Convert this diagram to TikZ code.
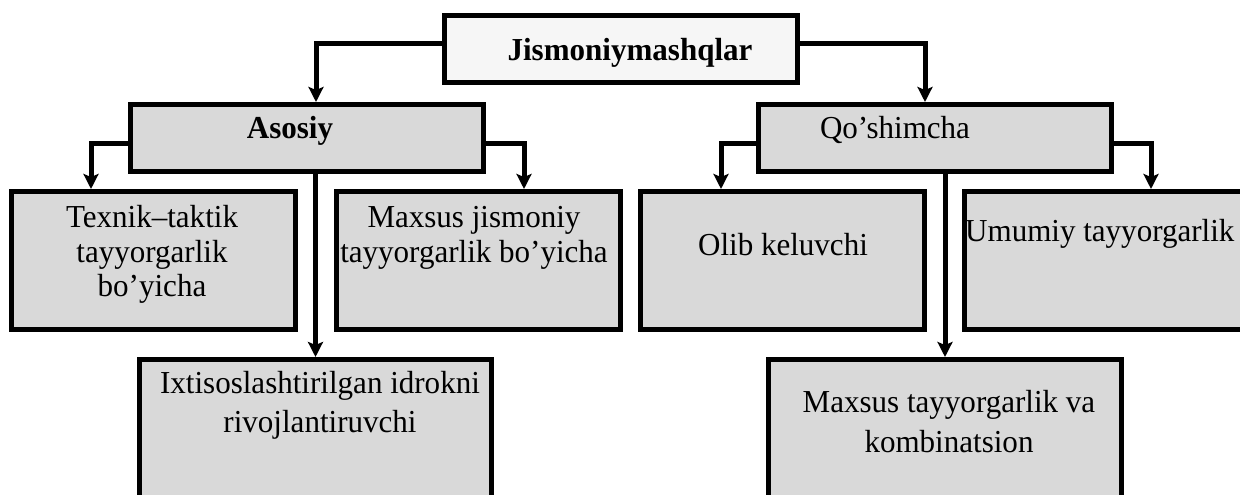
\documentclass[tikz,border=0pt]{standalone}
\usepackage{fontspec}
\setmainfont{Liberation Serif}[FakeStretch=0.97]
\usetikzlibrary{arrows.meta}
\definecolor{boxgray}{RGB}{217,217,217}
\definecolor{topfill}{RGB}{246,246,246}
\newcommand\fsz{\fontsize{32}{36}\selectfont}
\begin{document}
\begin{tikzpicture}[x=1pt,y=-1pt,
  box/.style={draw=black, line width=5pt, fill=boxgray, inner sep=0pt, outer sep=2.5pt, anchor=north west},
  conn/.style={line width=5pt, -{Stealth[length=15pt,width=15pt,inset=3pt]}},
  txt/.style={anchor=base, inner sep=0pt, font=\fsz},
  btxt/.style={txt, font=\fsz\bfseries}]
\useasboundingbox (0,0) rectangle (1240,495);
% boxes
\node[box, fill=topfill, minimum width=353pt, minimum height=67pt] (top) at (442,13) {};
\node[box, minimum width=353pt, minimum height=67pt] (asosiy) at (128,102) {};
\node[box, minimum width=353pt, minimum height=67pt] (qosh) at (756,102) {};
\node[box, minimum width=284pt, minimum height=138pt] (texnik) at (9,189) {};
\node[box, minimum width=284pt, minimum height=138pt] (maxj) at (334,189) {};
\node[box, minimum width=284pt, minimum height=138pt] (olib) at (638,189) {};
\node[box, minimum width=300pt, minimum height=138pt] (umumiy) at (962,189) {};
\node[box, minimum width=352pt, minimum height=140pt] (ixtis) at (137,357) {};
\node[box, minimum width=353pt, minimum height=140pt] (maxt) at (766,357) {};
% texts
\node[btxt] (topt) at (630,60) {Jismoniymashqlar};
\node[btxt] (asosiyt) at (290,138) {Asosiy};
\node[txt] (qosht) at (895,138) {Qo’shimcha};
\node[txt] (texnika) at (152,227) {Texnik\textendash taktik};
\node[txt] (texnikb) at (152,262) {tayyorgarlik};
\node[txt] (texnikc) at (152,296) {bo’yicha};
\node[txt] (maxja) at (474,227) {Maxsus jismoniy};
\node[txt] (maxjb) at (474,262) {tayyorgarlik bo’yicha};
\node[txt] (olibt) at (783,255) {Olib keluvchi};
\node[txt, anchor=base west] (umumiyt) at (965,241) {Umumiy tayyorgarlik};
\node[txt] (ixtisa) at (320,393) {Ixtisoslashtirilgan idrokni};
\node[txt] (ixtisb) at (320,432) {rivojlantiruvchi};
\node[txt] (maxta) at (949,412) {Maxsus tayyorgarlik va};
\node[txt] (maxtb) at (949,452) {kombinatsion};
% connectors
\draw[conn] ([yshift=5pt]top.west) -| ([xshift=9pt]asosiy.north);
\draw[conn] ([yshift=5pt]top.east) -| ([xshift=-10pt]qosh.north);
\draw[conn] ([yshift=-5pt]asosiy.west) -| ([xshift=-62.5pt]texnik.north);
\draw[conn] ([yshift=-5pt]asosiy.east) -| ([xshift=45.5pt]maxj.north);
\draw[conn] (ixtis.north |- asosiy.south) -- (ixtis.north);
\draw[conn] ([yshift=-5pt]qosh.west) -| ([xshift=-61.5pt]olib.north);
\draw[conn] ([yshift=-5pt]qosh.east) -| ([xshift=189pt]umumiy.north west);
\draw[conn] (maxt.north |- qosh.south) -- (maxt.north);
\end{tikzpicture}
\end{document}
